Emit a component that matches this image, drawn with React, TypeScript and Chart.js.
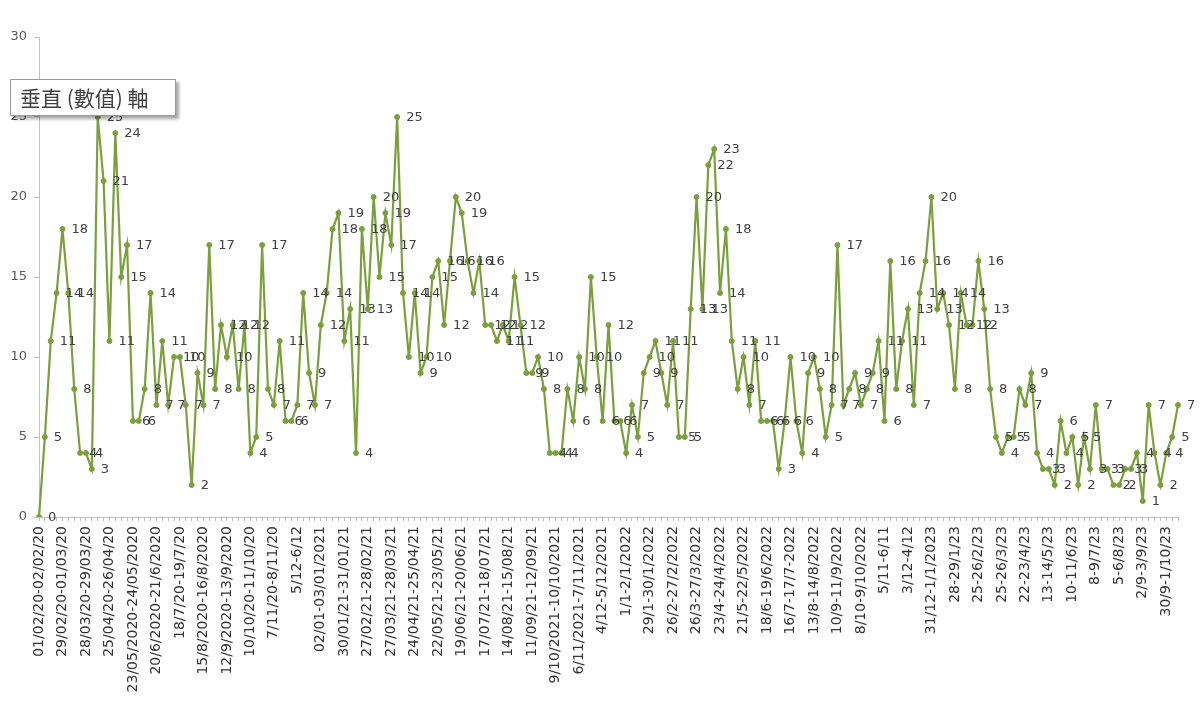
import React, { useEffect, useRef } from 'react';
import { Chart, registerables } from 'chart.js';

Chart.register(...registerables);

const tickLabels: string[] = [
  '01/02/20-02/02/20', '29/02/20-01/03/20', '28/03/20-29/03/20', '25/04/20-26/04/20',
  '23/05/2020-24/05/2020', '20/6/2020-21/6/2020', '18/7/20-19/7/20', '15/8/2020-16/8/2020',
  '12/9/2020-13/9/2020', '10/10/20-11/10/20', '7/11/20-8/11/20', '5/12-6/12',
  '02/01-03/01/2021', '30/01/21-31/01/21', '27/02/21-28/02/21', '27/03/21-28/03/21',
  '24/04/21-25/04/21', '22/05/21-23/05/21', '19/06/21-20/06/21', '17/07/21-18/07/21',
  '14/08/21-15/08/21', '11/09/21-12/09/21', '9/10/2021-10/10/2021', '6/11/2021-7/11/2021',
  '4/12-5/12/2021', '1/1-2/1/2022', '29/1-30/1/2022', '26/2-27/2/2022',
  '26/3-27/3/2022', '23/4-24/4/2022', '21/5-22/5/2022', '18/6-19/6/2022',
  '16/7-17/7-2022', '13/8-14/8/2022', '10/9-11/9/2022', '8/10-9/10/2022',
  '5/11-6/11', '3/12-4/12', '31/12-1/1/2023', '28-29/1/23',
  '25-26/2/23', '25-26/3/23', '22-23/4/23', '13-14/5/23',
  '10-11/6/23', '8-9/7/23', '5-6/8/23', '2/9-3/9/23', '30/9-1/10/23',
];

const weeklyCounts: number[] = [
  0, 5, 11, 14, 18, 14, 8, 4, 4, 3,
  25, 21, 11, 24, 15, 17, 6, 6, 8, 14,
  7, 11, 7, 10, 10, 7, 2, 9, 7, 17,
  8, 12, 10, 12, 8, 12, 4, 5, 17, 8,
  7, 11, 6, 6, 7, 14, 9, 7, 12, 14,
  18, 19, 11, 13, 4, 18, 13, 20, 15, 19,
  17, 25, 14, 10, 14, 9, 10, 15, 16, 12,
  16, 20, 19, 16, 14, 16, 12, 12, 11, 12,
  11, 15, 12, 9, 9, 10, 8, 4, 4, 4,
  8, 6, 10, 8, 15, 10, 6, 12, 6, 6,
  4, 7, 5, 9, 10, 11, 9, 7, 11, 5,
  5, 13, 20, 13, 22, 23, 14, 18, 11, 8,
  10, 7, 11, 6, 6, 6, 3, 6, 10, 6,
  4, 9, 10, 8, 5, 7, 17, 7, 8, 9,
  7, 8, 9, 11, 6, 16, 8, 11, 13, 7,
  14, 16, 20, 13, 14, 12, 8, 14, 12, 12,
  16, 13, 8, 5, 4, 5, 5, 8, 7, 9,
  4, 3, 3, 2, 6, 4, 5, 2, 5, 3,
  7, 3, 3, 2, 2, 3, 3, 4, 1, 7,
  4, 2, 4, 5, 7,
];

const categories: string[] = weeklyCounts.map((_, i) => (i % 4 === 0 ? tickLabels[i / 4] ?? '' : ''));

const LINE_COLOR = '#7aa03c';

const pointLabelPlugin = {
  id: 'pointLabels',
  afterDatasetsDraw(chart: any) {
    const ctx = chart.ctx;
    const meta = chart.getDatasetMeta(0);
    ctx.save();
    ctx.font = '13px "DejaVu Sans"';
    ctx.fillStyle = '#404040';
    ctx.textAlign = 'left';
    ctx.textBaseline = 'middle';
    meta.data.forEach((pt: any, i: number) => {
      ctx.fillText(String(weeklyCounts[i]), pt.x + 9, pt.y + 1);
    });
    ctx.restore();
  },
};

export default function App() {
  const canvasRef = useRef<HTMLCanvasElement | null>(null);

  useEffect(() => {
    if (!canvasRef.current) return;
    const chart = new Chart(canvasRef.current, {
      type: 'line',
      data: {
        labels: categories,
        datasets: [
          {
            data: weeklyCounts,
            borderColor: LINE_COLOR,
            backgroundColor: LINE_COLOR,
            borderWidth: 2.2,
            pointRadius: 2.5,
            pointBorderWidth: 1,
            pointBackgroundColor: LINE_COLOR,
            pointBorderColor: LINE_COLOR,
            tension: 0,
            fill: false,
          },
        ],
      },
      options: {
        animation: false,
        responsive: false,
        maintainAspectRatio: false,
        layout: { padding: { top: 37, right: 22, bottom: 0, left: 0 } },
        plugins: {
          legend: { display: false },
          tooltip: { enabled: false },
        },
        scales: {
          x: {
            type: 'category',
            offset: false,
            grid: {
              display: true,
              drawOnChartArea: false,
              drawTicks: true,
              tickLength: 4,
              color: '#c0c0c0',
            },
            border: { display: true, color: '#c0c0c0' },
            ticks: {
              autoSkip: false,
              maxRotation: 90,
              minRotation: 90,
              padding: 5,
              color: '#333333',
              font: { family: '"DejaVu Sans"', size: 14 },
            },
            afterFit: (scale: any) => {
              scale.height = 186;
            },
          },
          y: {
            min: 0,
            max: 30,
            ticks: {
              stepSize: 5,
              padding: 7,
              color: '#595959',
              font: { family: '"DejaVu Sans"', size: 13 },
            },
            grid: {
              display: true,
              drawOnChartArea: false,
              drawTicks: true,
              tickLength: 5,
              color: '#c0c0c0',
            },
            border: { display: true, color: '#c0c0c0' },
            afterFit: (scale: any) => {
              scale.width = 39;
            },
          },
        },
      },
      plugins: [pointLabelPlugin],
    });
    return () => {
      chart.destroy();
    };
  }, []);

  return (
    <div style={{ position: 'absolute', left: 0, top: 0, width: 1200, height: 703, background: '#ffffff', overflow: 'hidden' }}>
      <canvas ref={canvasRef} width={1200} height={703} style={{ display: 'block', width: 1200, height: 703 }} />
      <div
        style={{
          position: 'absolute',
          left: 10,
          top: 79,
          width: 166,
          height: 37,
          boxSizing: 'border-box',
          border: '1px solid #9a9a9a',
          background: '#ffffff',
          boxShadow: '3px 3px 3px rgba(0,0,0,0.35)',
          fontFamily: '"Noto Sans CJK TC", "Noto Sans CJK SC", sans-serif',
          fontSize: 21,
          lineHeight: '35px',
          color: '#404040',
          paddingLeft: 9,
          whiteSpace: 'nowrap',
        }}
      >
        垂直 (數值) 軸
      </div>
    </div>
  );
}
